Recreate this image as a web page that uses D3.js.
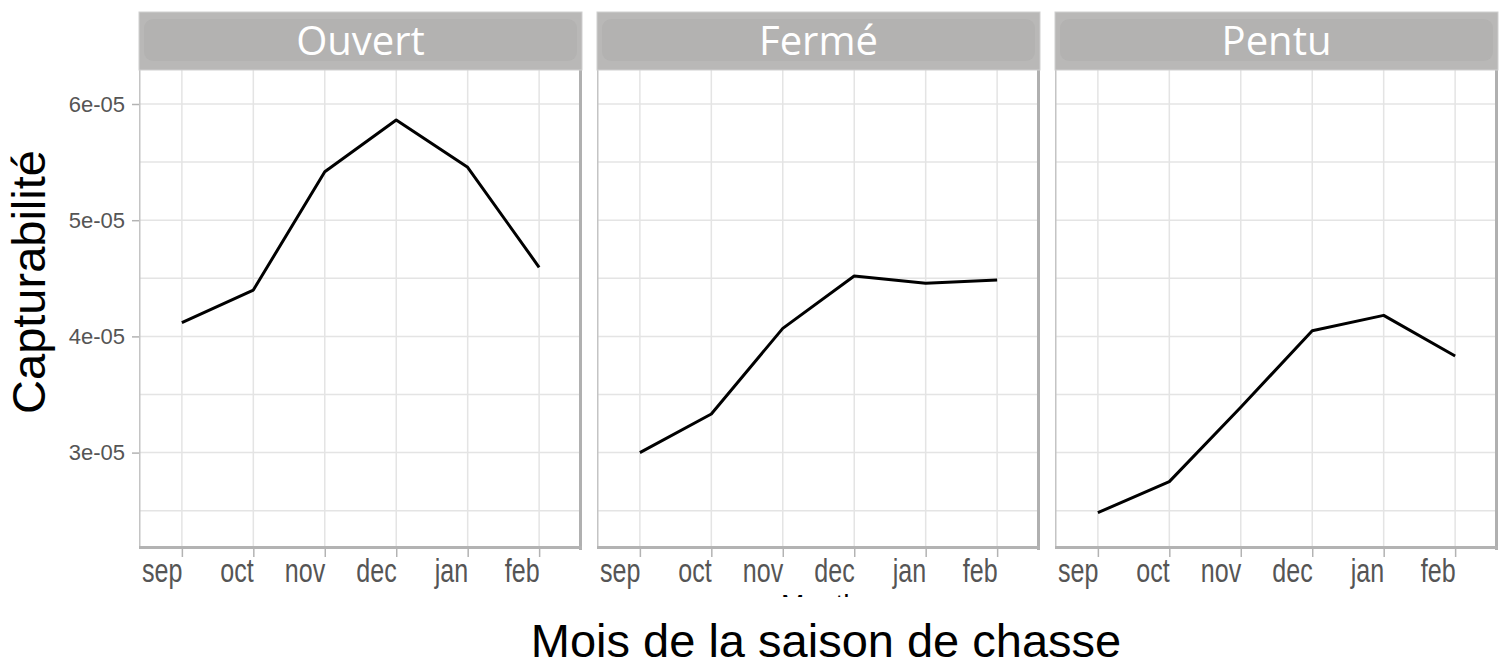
<!DOCTYPE html>
<html>
<head>
<meta charset="utf-8">
<script src="https://cdn.jsdelivr.net/npm/d3@7"></script>
<style>
  html, body { margin: 0; padding: 0; background: #ffffff; }
  svg { display: block; }
</style>
</head>
<body>
<svg id="chart" width="1503" height="665"></svg>
<script>
// ---------------- DATA ----------------
const months = ["sep", "oct", "nov", "dec", "jan", "feb"];
const facets = ["Ouvert", "Fermé", "Pentu"];
const ouvert = [4.118e-05, 4.399e-05, 5.417e-05, 5.862e-05, 5.455e-05, 4.595e-05];
const ferme  = [3.000e-05, 3.332e-05, 4.069e-05, 4.520e-05, 4.457e-05, 4.485e-05];
const pentu  = [2.483e-05, 2.750e-05, 3.390e-05, 4.049e-05, 4.181e-05, 3.831e-05];
const seriesValues = [ouvert, ferme, pentu];
const yMajorTicks = [3e-05, 4e-05, 5e-05, 6e-05];
const yMinorTicks = [2.5e-05, 3.5e-05, 4.5e-05, 5.5e-05];
const yTickLabels = ["3e-05", "4e-05", "5e-05", "6e-05"];
const yDomain = [2.1704e-05, 6.2926e-05];
const xTitle = "Mois de la saison de chasse";
const yTitle = "Capturabilité";
const hiddenTitle = "Month";

// ---------------- LAYOUT ----------------
const svg = d3.select("#chart");
const panelLefts = [139, 597, 1055];
const panelW = 443;
const plotTop = 70, plotBottom = 549;
const stripTop = 12;

const y = d3.scaleLinear().domain(yDomain).range([plotBottom, plotTop]);

const gridColor = "#e4e4e4";

facets.forEach((name, i) => {
  const x0 = panelLefts[i];
  const x = d3.scalePoint().domain(months).range([x0, x0 + panelW]).padding(0.6);
  const g = svg.append("g");

  g.append("rect").attr("x", x0).attr("y", plotTop).attr("width", panelW)
    .attr("height", plotBottom - plotTop).attr("fill", "#fff");

  // grid
  g.selectAll(".hminor").data(yMinorTicks).join("line")
    .attr("x1", x0).attr("x2", x0 + panelW)
    .attr("y1", d => y(d)).attr("y2", d => y(d))
    .attr("stroke", gridColor).attr("stroke-width", 1.5);
  g.selectAll(".hmajor").data(yMajorTicks).join("line")
    .attr("x1", x0).attr("x2", x0 + panelW)
    .attr("y1", d => y(d)).attr("y2", d => y(d))
    .attr("stroke", gridColor).attr("stroke-width", 1.5);
  g.selectAll(".vmajor").data(months).join("line")
    .attr("x1", d => x(d)).attr("x2", d => x(d))
    .attr("y1", plotTop).attr("y2", plotBottom)
    .attr("stroke", gridColor).attr("stroke-width", 1.5);

  // line
  const vals = seriesValues[i];
  const line = d3.line().x((d, j) => x(months[j])).y(d => y(d));
  g.append("path").datum(vals).attr("d", line)
    .attr("fill", "none").attr("stroke", "#000").attr("stroke-width", 3)
    .attr("stroke-linejoin", "round");

  // panel border
  g.append("line").attr("x1", x0 + 0.75).attr("x2", x0 + 0.75)
    .attr("y1", plotTop).attr("y2", plotBottom)
    .attr("stroke", "#c4c4c4").attr("stroke-width", 1.5);
  g.append("line").attr("x1", x0 + panelW - 1.5).attr("x2", x0 + panelW - 1.5)
    .attr("y1", plotTop).attr("y2", plotBottom + 1)
    .attr("stroke", "#b0b0b0").attr("stroke-width", 3);
  g.append("line").attr("x1", x0).attr("x2", x0 + panelW)
    .attr("y1", plotBottom - 1.5).attr("y2", plotBottom - 1.5)
    .attr("stroke", "#b3b3b3").attr("stroke-width", 3);

  // strip
  g.append("rect").attr("x", x0).attr("y", stripTop).attr("width", panelW)
    .attr("height", plotTop - stripTop).attr("fill", "#b9b8b7")
    .attr("stroke", "#cfcfcf").attr("stroke-width", 1);
  g.append("rect").attr("x", x0 + 5).attr("y", stripTop + 7).attr("width", panelW - 10)
    .attr("height", plotTop - stripTop - 16).attr("rx", 9).attr("fill", "#b3b2b1");
  g.append("text").attr("x", x0 + panelW / 2).attr("y", 55)
    .attr("text-anchor", "middle").attr("fill", "#ffffff")
    .style("font-family", "'Open Sans', sans-serif").style("font-size", "40px")
    .text(name);

  // x axis
  const xAxis = d3.axisBottom(x).tickSize(8).tickSizeOuter(0);
  const xa = svg.append("g").attr("transform", `translate(0,${plotBottom})`).call(xAxis);
  xa.select(".domain").remove();
  xa.selectAll(".tick line").attr("stroke", "#b3b3b3").attr("stroke-width", 1.5);
  xa.selectAll(".tick text")
    .attr("text-anchor", "end").attr("y", 33).attr("dy", null)
    .attr("transform", "scale(0.76,1)")
    .attr("fill", "#555555")
    .style("font-family", "'Liberation Sans', Arial, sans-serif").style("font-size", "33px");
});

// y axis (first panel only)
const yAxis = d3.axisLeft(y).tickValues(yMajorTicks)
  .tickFormat((d, j) => yTickLabels[j]).tickSize(7).tickPadding(7).tickSizeOuter(0);
const ya = svg.append("g").attr("transform", `translate(${panelLefts[0]},0)`).call(yAxis);
ya.select(".domain").remove();
ya.selectAll(".tick line").attr("stroke", "#b3b3b3").attr("stroke-width", 1.5);
ya.selectAll(".tick text").attr("fill", "#555555")
  .style("font-family", "'Liberation Sans', Arial, sans-serif").style("font-size", "22px");

// hidden original x title (only its tips peek out)
svg.append("clipPath").attr("id", "tipclip").append("rect")
  .attr("x", 700).attr("y", 593).attr("width", 250).attr("height", 4);
svg.append("text").attr("x", 820).attr("y", 614).attr("text-anchor", "middle")
  .attr("clip-path", "url(#tipclip)").attr("fill", "#000")
  .style("font-family", "'Liberation Sans', Arial, sans-serif").style("font-size", "28px")
  .text(hiddenTitle);

// axis titles
svg.append("text").attr("x", 826).attr("y", 657).attr("text-anchor", "middle")
  .attr("fill", "#000")
  .style("font-family", "'Liberation Sans', Arial, sans-serif").style("font-size", "47px")
  .text(xTitle);
svg.append("text").attr("transform", "translate(45,282) rotate(-90)")
  .attr("text-anchor", "middle").attr("fill", "#000")
  .style("font-family", "'Liberation Sans', Arial, sans-serif").style("font-size", "47px")
  .text(yTitle);
</script>
</body>
</html>
